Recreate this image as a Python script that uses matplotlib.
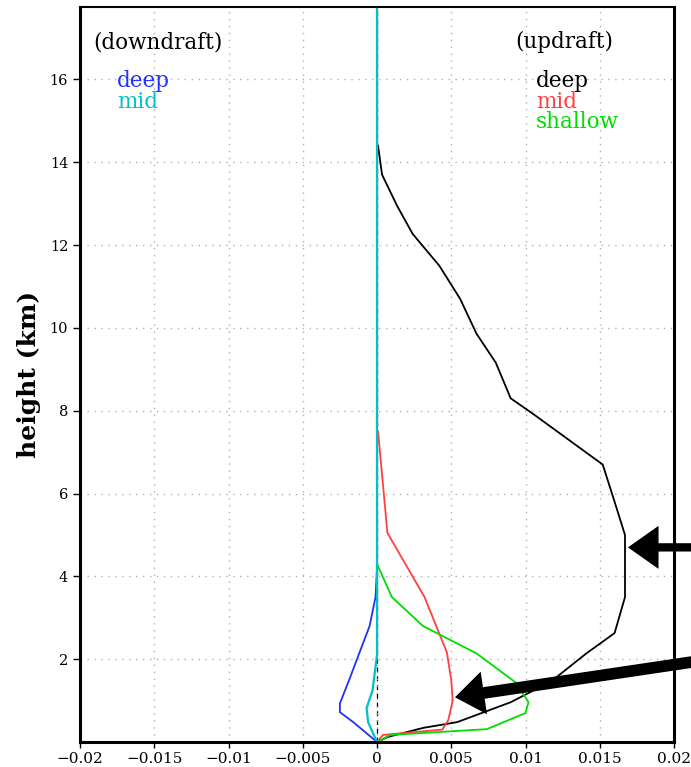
import numpy as np
import matplotlib.pyplot as plt

# mass flux profiles (kg m-2 s-1) against height (km)
up_deep_z = [0, 0.12, 0.34, 0.48, 0.96, 1.2, 1.57, 2.14, 2.63, 3.5, 5.0, 5.8, 6.7, 7.9, 8.3, 9.16, 9.86, 10.7, 11.5, 12.27, 12.95, 13.7, 14.4]
up_deep_m = [0, 0.0007, 0.0031, 0.0054, 0.009, 0.0103, 0.0121, 0.0141, 0.016, 0.0167, 0.0167, 0.016, 0.0152, 0.0106, 0.009, 0.008, 0.0067, 0.0056, 0.0042, 0.0024, 0.00135, 0.00034, 0.00007]

up_mid_z = [0, 0.17, 0.3, 0.53, 1.0, 1.5, 2.17, 3.5, 5.05, 7.0, 7.5]
up_mid_m = [0, 0.0004, 0.0044, 0.0048, 0.0051, 0.0050, 0.0047, 0.0032, 0.0007, 0.0002, 0.00007]

up_shallow_z = [0, 0.17, 0.31, 0.7, 0.96, 1.42, 2.14, 2.8, 3.5, 4.3]
up_shallow_m = [0, 0.0009, 0.0074, 0.0100, 0.0102, 0.0094, 0.0067, 0.0031, 0.001, 0]

dn_deep_z = [0, 0.48, 0.72, 0.93, 1.57, 2.14, 2.8, 3.5, 4.2]
dn_deep_m = [0, -0.0016, -0.0025, -0.0025, -0.0018, -0.0012, -0.0005, -0.0001, 0]

dn_mid_z = [0, 0.48, 0.82, 1.25, 2.1, 17.8]
dn_mid_m = [0, -0.0006, -0.0007, -0.0003, 0, 0]

xticks = [-0.02, -0.015, -0.01, -0.005, 0, 0.005, 0.01, 0.015, 0.02]
xticklabels = ['\u22120.02', '\u22120.015', '\u22120.01', '\u22120.005', '0', '0.005', '0.01', '0.015', '0.02']
yticks = [2, 4, 6, 8, 10, 12, 14, 16]

plt.rcParams['font.family'] = ['DejaVu Serif']

fig = plt.figure(figsize=(6.91, 7.67), dpi=100)
ax = fig.add_axes([0.1158, 0.0326, 0.8596, 0.9583])

ax.axvline(0, color='black', lw=0.9, ls=(0, (4, 3)), zorder=1)
ax.plot(up_deep_m, up_deep_z, color='black', lw=1.3)
ax.plot(up_mid_m, up_mid_z, color='#ff4040', lw=1.3)
ax.plot(up_shallow_m, up_shallow_z, color='#00dd00', lw=1.3)
ax.plot(dn_deep_m, dn_deep_z, color='#2030ff', lw=1.3)
ax.plot(dn_mid_m, dn_mid_z, color='#00c0c8', lw=1.6)

ax.set_xlim(-0.02, 0.02)
ax.set_ylim(0, 17.75)
ax.set_xticks(xticks)
ax.set_xticklabels(xticklabels, fontsize=11)
ax.set_yticks(yticks)
ax.tick_params(axis='y', labelsize=10.5, length=5, width=1)
ax.tick_params(axis='x', length=4, width=1)
ax.grid(True, color='#b0b0b0', ls=(0, (1, 4)), lw=1)

for side in ['left', 'bottom', 'right']:
    ax.spines[side].set_linewidth(2.2)
ax.spines['top'].set_linewidth(1.5)

ax.set_ylabel('height (km)', fontsize=18, fontweight='bold', labelpad=6)

# legend-style labels
txt = dict(fontsize=15.5)
ax.text(-0.0191, 16.75, '(downdraft)', **txt)
ax.text(-0.0175, 15.82, 'deep', color='#2030ff', **txt)
ax.text(-0.0175, 15.32, 'mid', color='#00c0c8', **txt)
ax.text(0.0093, 16.75, '(updraft)', **txt)
ax.text(0.0107, 15.82, 'deep', color='black', **txt)
ax.text(0.0107, 15.32, 'mid', color='#ff4040', **txt)
ax.text(0.0107, 14.82, 'shallow', color='#00dd00', **txt)

# arrows pointing at the flux maxima
ax.annotate('', xy=(0.0169, 4.7), xytext=(0.0235, 4.7), annotation_clip=False,
            arrowprops=dict(arrowstyle='simple,head_length=1.1,head_width=1.55,tail_width=0.3',
                            color='black', lw=0, mutation_scale=20, shrinkA=0, shrinkB=0))
ax.annotate('', xy=(0.00525, 1.08), xytext=(0.0238, 2.07), annotation_clip=False,
            arrowprops=dict(arrowstyle='simple,head_length=1.05,head_width=1.55,tail_width=0.42',
                            color='black', lw=0, mutation_scale=20, shrinkA=0, shrinkB=0))

fig.savefig('out.png', dpi=100)
